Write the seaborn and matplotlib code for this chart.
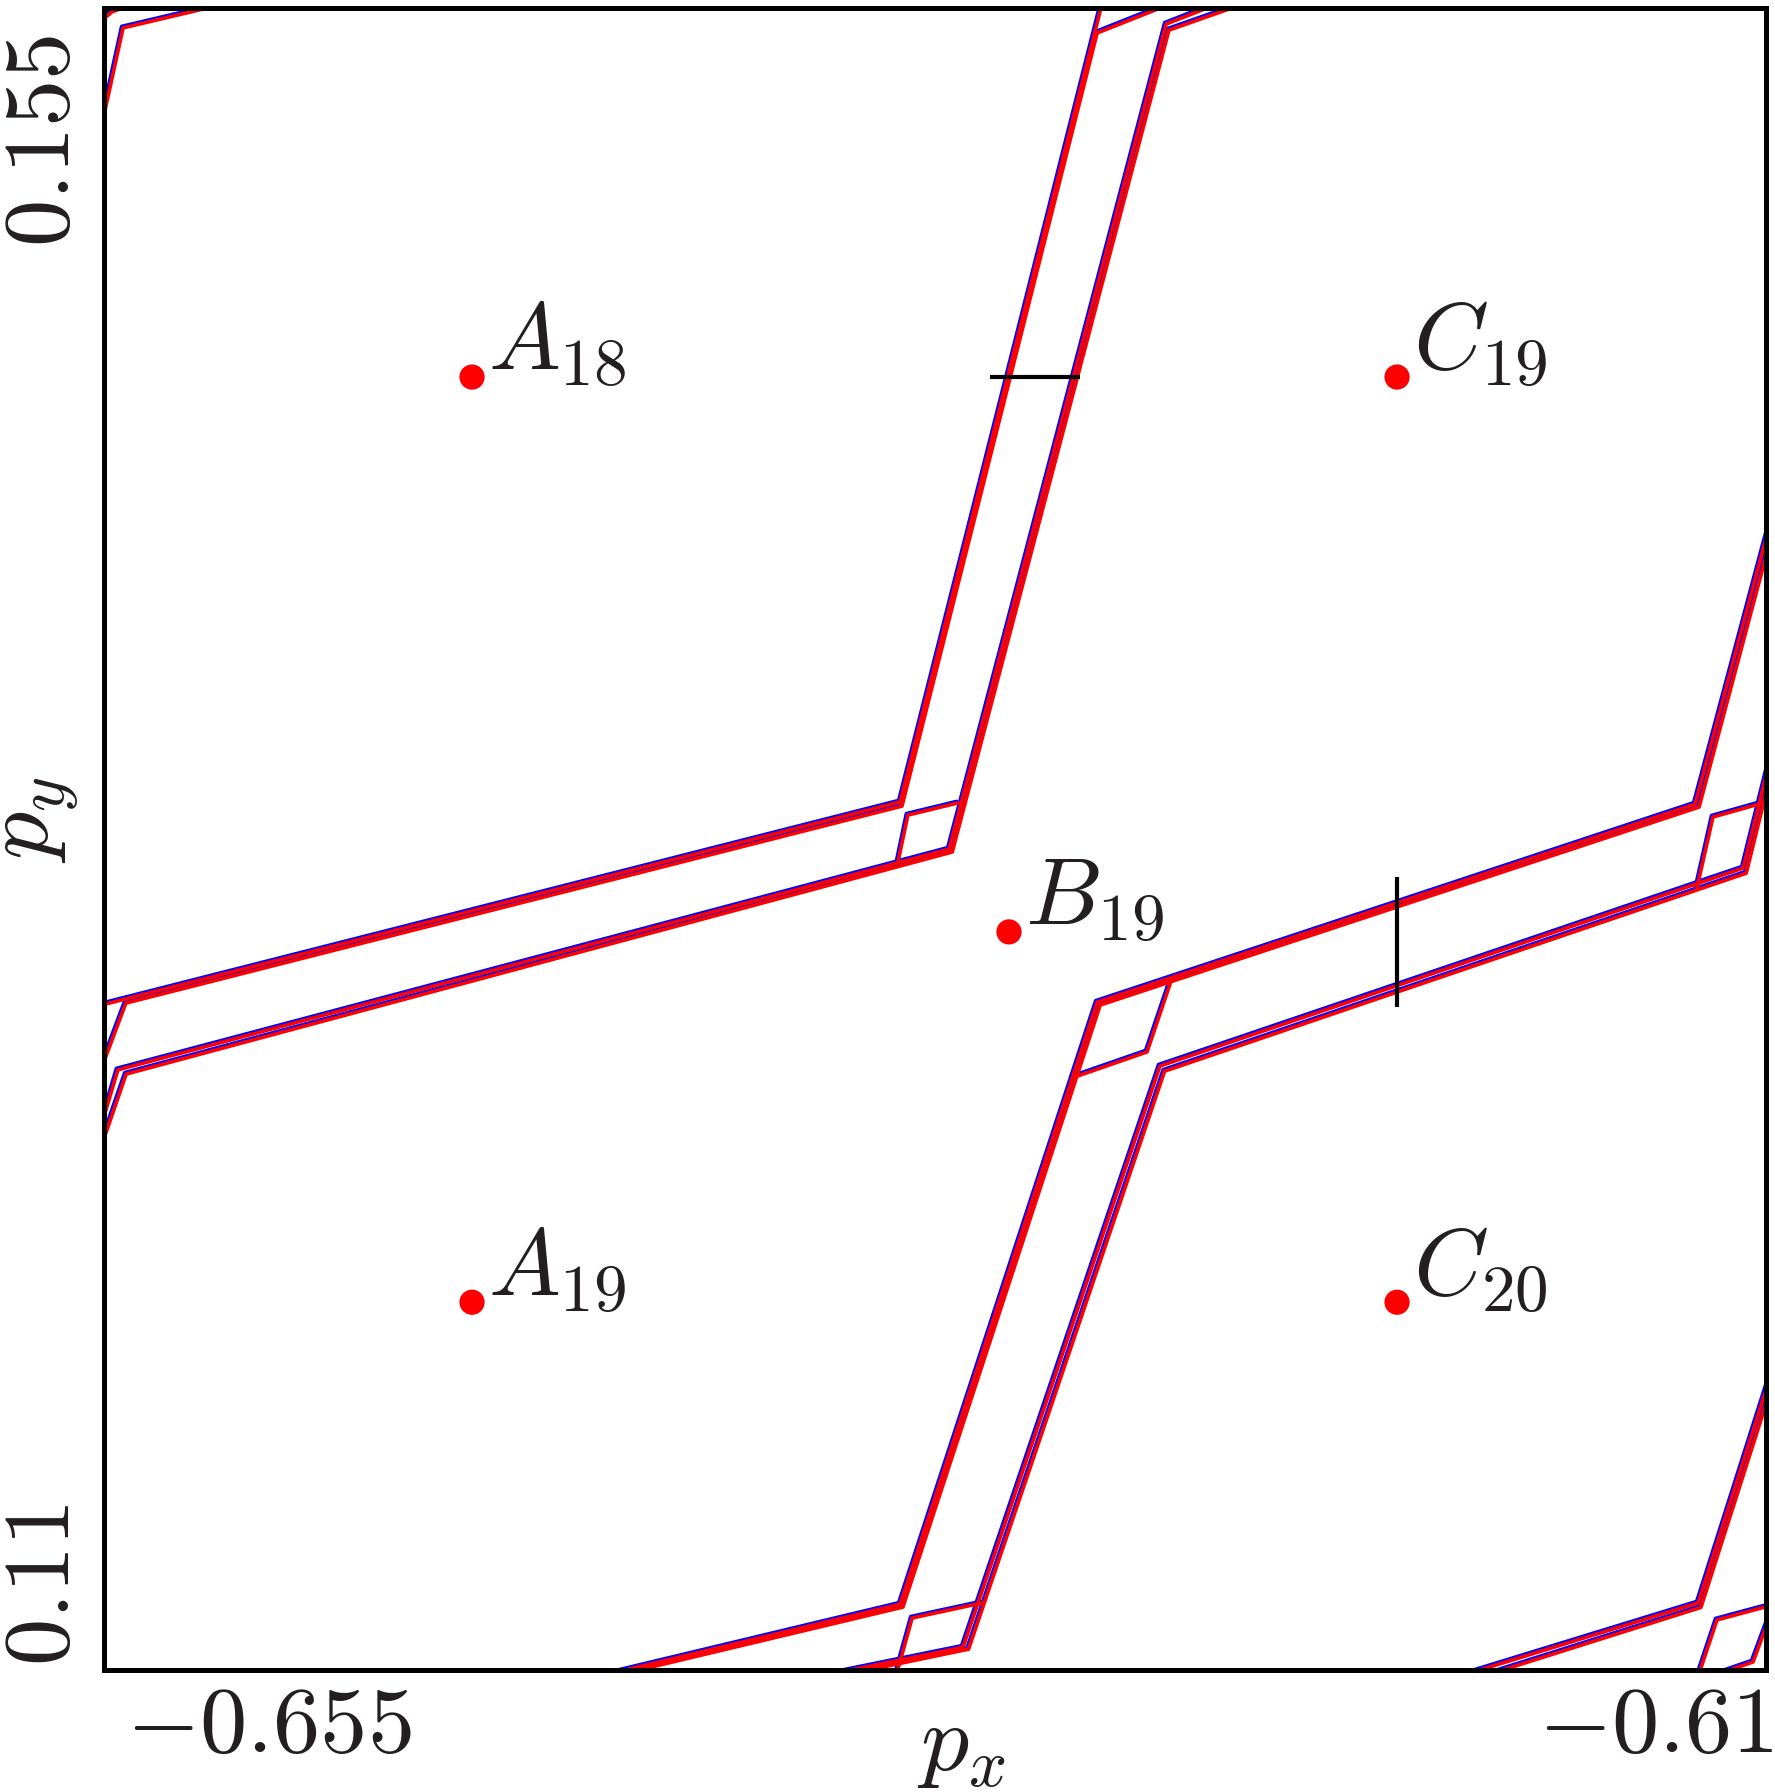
import matplotlib
matplotlib.use("Agg")
import matplotlib.pyplot as plt
import matplotlib.transforms as mtransforms
import numpy as np
import pandas as pd
import seaborn as sns

# axis ranges and ticks
x_lim = (-0.66035, -0.60643)
y_lim = (0.10735, 0.15914)
x_ticks = [-0.655, -0.61]
x_ticklabels = [r"$-0.655$", r"$-0.61$"]
y_ticks = [0.11, 0.155]
y_ticklabels = [r"$0.11$", r"$0.155$"]

# periodic orbit points
point_names = [r"$A_{18}$", r"$C_{19}$", r"$B_{19}$", r"$A_{19}$", r"$C_{20}$"]
point_x = [-0.64841, -0.61840, -0.63099, -0.64841, -0.61840]
point_y = [0.14764, 0.14764, 0.13035, 0.11881, 0.11881]

# manifold pieces (polylines)
u1a_x = [-0.66080, -0.63452, -0.62794]
u1a_y = [0.12798, 0.13440, 0.15939]
u1b_x = [-0.66048, -0.65964, -0.63446, -0.62813, -0.62577]
u1b_y = [0.12598, 0.12813, 0.13427, 0.15836, 0.15926]
u2a_x = [-0.66048, -0.65990, -0.63293, -0.62589, -0.62440]
u2a_y = [0.12418, 0.12605, 0.13293, 0.15864, 0.15920]
u2b_x = [-0.66048, -0.65963, -0.63283, -0.62580, -0.62349]
u2b_y = [0.12355, 0.12592, 0.13284, 0.15845, 0.15923]
pu_x = [-0.63459, -0.63427, -0.63264]
pu_y = [0.13253, 0.13399, 0.13437]

l1a_x = [-0.64426, -0.63452, -0.62813, -0.60873, -0.60614]
l1a_y = [0.10716, 0.10940, 0.12816, 0.13433, 0.14365]
l1b_x = [-0.64400, -0.63443, -0.62803, -0.60860, -0.60614]
l1b_y = [0.10712, 0.10931, 0.12807, 0.13424, 0.14310]
pl1_x = [-0.62570, -0.62651, -0.62894]
pl1_y = [0.12891, 0.12661, 0.12580]

l2a_x = [-0.63709, -0.63248, -0.62609, -0.60717, -0.60614]
l2a_y = [0.10716, 0.10806, 0.12617, 0.13234, 0.13633]
l2b_x = [-0.63670, -0.63230, -0.62594, -0.60707, -0.60614]
l2b_y = [0.10712, 0.10800, 0.12601, 0.13218, 0.13580]
pl2_x = [-0.60867, -0.60815, -0.60597]
pl2_y = [0.13172, 0.13393, 0.13452]
pl3_x = [-0.63469, -0.63413, -0.63186]
pl3_y = [0.10704, 0.10897, 0.10944]

rb1a_x = [-0.61636, -0.60863, -0.60614]
rb1a_y = [0.10716, 0.10944, 0.11695]
rb1b_x = [-0.61560, -0.60854, -0.60614]
rb1b_y = [0.10716, 0.10930, 0.11650]
prb_x = [-0.60867, -0.60802, -0.60597]
prb_y = [0.10704, 0.10891, 0.10944]
rb2_x = [-0.60818, -0.60685, -0.60614]
rb2_y = [0.10716, 0.10760, 0.10944]

tl1_x = [-0.66048, -0.65973, -0.65646]
tl1_y = [0.15524, 0.15852, 0.15926]
tl2_x = [-0.66048, -0.66009, -0.65918]
tl2_y = [0.15870, 0.15902, 0.15933]

# black section markers
hseg_x = [-0.63160, -0.62868]
hseg_y = [0.14764, 0.14764]
vseg_x = [-0.61840, -0.61840]
vseg_y = [0.12801, 0.13206]

curves = {
    "u1a": (u1a_x, u1a_y), "u1b": (u1b_x, u1b_y),
    "u2a": (u2a_x, u2a_y), "u2b": (u2b_x, u2b_y), "pu": (pu_x, pu_y),
    "l1a": (l1a_x, l1a_y), "l1b": (l1b_x, l1b_y), "pl1": (pl1_x, pl1_y),
    "l2a": (l2a_x, l2a_y), "l2b": (l2b_x, l2b_y),
    "pl2": (pl2_x, pl2_y), "pl3": (pl3_x, pl3_y),
    "rb1a": (rb1a_x, rb1a_y), "rb1b": (rb1b_x, rb1b_y),
    "prb": (prb_x, prb_y), "rb2": (rb2_x, rb2_y),
    "tl1": (tl1_x, tl1_y), "tl2": (tl2_x, tl2_y),
}
frames = []
for name, (cx, cy) in curves.items():
    frames.append(pd.DataFrame({"curve": name, "px": cx, "py": cy}))
df = pd.concat(frames, ignore_index=True)

sns.set_theme(style="white")
plt.rcParams["font.family"] = ["DejaVu Serif"]
plt.rcParams["mathtext.fontset"] = "cm"

fig = plt.figure(figsize=(17.75, 17.92), dpi=100)
ax = fig.add_axes([104 / 1775, 122 / 1792, 1662 / 1775, 1662 / 1792])

# blue copy sits slightly up-left of the red one
blue_tr = mtransforms.offset_copy(ax.transData, fig=fig, x=-1.5, y=1.5, units="dots")
sns.lineplot(data=df, x="px", y="py", units="curve", estimator=None, sort=False,
             color="#0000ff", lw=2.6, ax=ax, transform=blue_tr, legend=False)
sns.lineplot(data=df, x="px", y="py", units="curve", estimator=None, sort=False,
             color="#ff0000", lw=2.6, ax=ax, legend=False)

ax.plot(hseg_x, hseg_y, color="black", lw=3.0, solid_capstyle="butt")
ax.plot(vseg_x, vseg_y, color="black", lw=3.0, solid_capstyle="butt")

sns.scatterplot(x=point_x, y=point_y, color="#ff0000", s=330, edgecolor="none",
                zorder=5, ax=ax, legend=False)
for name, px, py in zip(point_names, point_x, point_y):
    ax.annotate(name, xy=(px, py), xytext=(16, 8), textcoords="offset pixels",
                ha="left", va="baseline", fontsize=69, color="#231f20")

ax.set_xlim(*x_lim)
ax.set_ylim(*y_lim)
ax.set_xticks(x_ticks)
ax.set_xticklabels(x_ticklabels)
ax.set_yticks(y_ticks)
ax.set_yticklabels(y_ticklabels, rotation=90, va="center")
ax.tick_params(axis="both", length=0, labelsize=68, labelcolor="#231f20")
ax.tick_params(axis="x", pad=8)
ax.tick_params(axis="y", pad=11.5)

ax.set_xlabel(r"$p_x$", fontsize=69, color="#231f20")
ax.set_ylabel(r"$p_y$", fontsize=69, color="#231f20")
ax.xaxis.set_label_coords(0.5157, -0.0163)
ax.yaxis.set_label_coords(-0.0140, 0.5114)

for sp in ax.spines.values():
    sp.set_color("black")
    sp.set_linewidth(3.6)
    sp.set_visible(True)

fig.savefig("out.png", dpi=100)
